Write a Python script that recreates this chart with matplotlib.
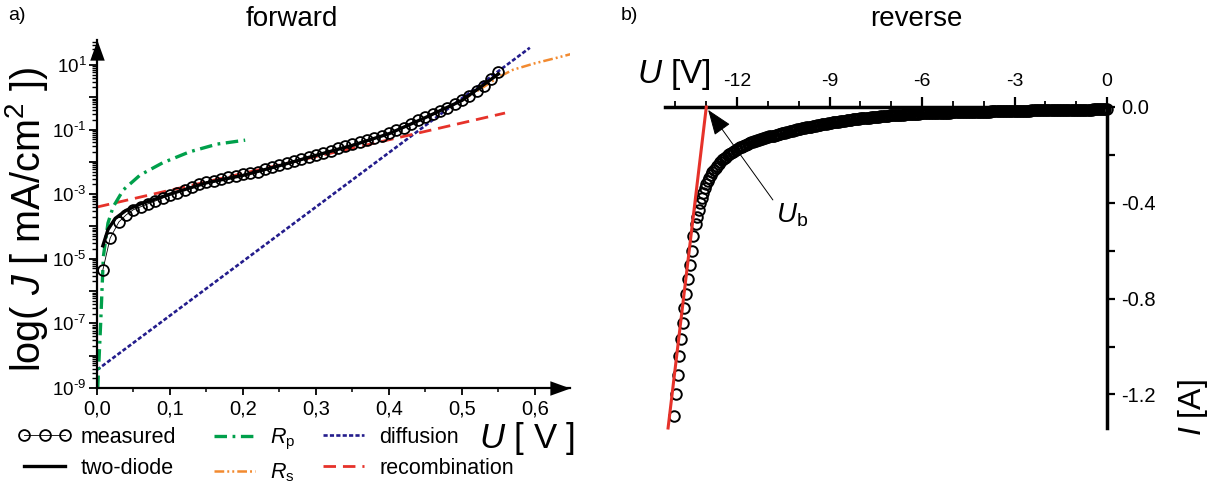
import matplotlib.pyplot as plt
import numpy as np
from matplotlib.ticker import LogLocator, MultipleLocator, FixedLocator, FuncFormatter, NullFormatter

plt.rcParams['font.family'] = ['Liberation Sans', 'DejaVu Sans']
plt.rcParams['mathtext.fontset'] = 'custom'
plt.rcParams['mathtext.rm'] = 'Liberation Sans'
plt.rcParams['mathtext.it'] = 'Liberation Sans:italic'
plt.rcParams['axes.unicode_minus'] = False
plt.rcParams['lines.scale_dashes'] = False

# ---- forward: log10 of J [mA/cm2] ----
meas_U = [0.008, 0.018, 0.03, 0.04, 0.05, 0.06, 0.07, 0.08, 0.09, 0.10,
          0.11, 0.12, 0.13, 0.14, 0.15, 0.16, 0.17, 0.18, 0.19, 0.20,
          0.21, 0.22, 0.23, 0.24, 0.25, 0.26, 0.27, 0.28, 0.29, 0.30,
          0.31, 0.32, 0.33, 0.34, 0.35, 0.36, 0.37, 0.38, 0.39, 0.40,
          0.41, 0.42, 0.43, 0.44, 0.45, 0.46, 0.47, 0.48, 0.49, 0.50,
          0.51, 0.52, 0.53, 0.54, 0.55]
meas_logJ = [-5.35, -4.36, -3.86, -3.64, -3.48, -3.39, -3.30, -3.21, -3.12, -3.03,
             -2.95, -2.86, -2.77, -2.69, -2.63, -2.58, -2.52, -2.47, -2.43, -2.39,
             -2.35, -2.30, -2.23, -2.17, -2.10, -2.03, -1.96, -1.90, -1.84, -1.78,
             -1.72, -1.65, -1.58, -1.52, -1.46, -1.40, -1.33, -1.26, -1.19, -1.11,
             -1.03, -0.95, -0.84, -0.72, -0.61, -0.51, -0.42, -0.32, -0.20, -0.08,
             0.05, 0.19, 0.36, 0.55, 0.77]

fit_U = [0.008, 0.015, 0.025, 0.04, 0.06, 0.10, 0.15, 0.20, 0.25, 0.30, 0.35, 0.40, 0.45, 0.50, 0.55]
fit_logJ = [-4.6, -4.1, -3.75, -3.5, -3.3, -3.0, -2.65, -2.42, -2.12, -1.80, -1.49, -1.13, -0.63, -0.10, 0.72]

rp_U = [0.001, 0.003, 0.005, 0.0087, 0.015, 0.022, 0.036, 0.059, 0.09, 0.127, 0.165, 0.203]
rp_logJ = [-9.0, -8.0, -7.0, -4.94, -3.9, -3.40, -2.87, -2.41, -2.03, -1.69, -1.45, -1.33]

rs_U = [0.50, 0.53, 0.55, 0.57, 0.60, 0.63, 0.652]
rs_logJ = [-0.10, 0.32, 0.62, 0.85, 1.05, 1.22, 1.35]

diff_U = [0.0, 0.593]
diff_logJ = [-8.44, 1.53]

rec_U = [0.0, 0.559]
rec_logJ = [-3.40, -0.49]

# ---- reverse: I [A] vs U [V] ----
rev_U = [
    0.0, -0.05, -0.1, -0.15, -0.2, -0.25, -0.3, -0.35, -0.4, -0.45,
    -0.5, -0.55, -0.6, -0.65, -0.7, -0.75, -0.8, -0.85, -0.9, -0.95,
    -1.0, -1.05, -1.1, -1.15, -1.2, -1.25, -1.3, -1.35, -1.4, -1.45,
    -1.5, -1.55, -1.6, -1.65, -1.7, -1.75, -1.8, -1.85, -1.9, -1.95,
    -2.0, -2.05, -2.1, -2.15, -2.2, -2.25, -2.3, -2.35, -2.4, -2.45,
    -2.5, -2.55, -2.6, -2.65, -2.7, -2.75, -2.8, -2.85, -2.9, -2.95,
    -3.0, -3.05, -3.1, -3.15, -3.2, -3.25, -3.3, -3.35, -3.4, -3.45,
    -3.5, -3.55, -3.6, -3.65, -3.7, -3.75, -3.8, -3.85, -3.9, -3.95,
    -4.0, -4.05, -4.1, -4.15, -4.2, -4.25, -4.3, -4.35, -4.4, -4.45,
    -4.5, -4.55, -4.6, -4.65, -4.7, -4.75, -4.8, -4.85, -4.9, -4.95,
    -5.0, -5.05, -5.1, -5.15, -5.2, -5.25, -5.3, -5.35, -5.4, -5.45,
    -5.5, -5.55, -5.6, -5.65, -5.7, -5.75, -5.8, -5.85, -5.9, -5.95,
    -6.0, -6.05, -6.1, -6.15, -6.2, -6.25, -6.3, -6.35, -6.4, -6.45,
    -6.5, -6.55, -6.6, -6.65, -6.7, -6.75, -6.8, -6.85, -6.9, -6.95,
    -7.0, -7.05, -7.1, -7.15, -7.2, -7.25, -7.3, -7.35, -7.4, -7.45,
    -7.5, -7.55, -7.6, -7.65, -7.7, -7.75, -7.8, -7.85, -7.9, -7.95,
    -8.0, -8.05, -8.1, -8.15, -8.2, -8.25, -8.3, -8.35, -8.4, -8.45,
    -8.5, -8.55, -8.6, -8.65, -8.7, -8.75, -8.8, -8.85, -8.9, -8.95,
    -9.0, -9.05, -9.1, -9.15, -9.2, -9.25, -9.3, -9.35, -9.4, -9.45,
    -9.5, -9.55, -9.6, -9.65, -9.7, -9.75, -9.8, -9.85, -9.9, -9.95,
    -10.0, -10.05, -10.1, -10.15, -10.2, -10.25, -10.3, -10.35, -10.4, -10.45,
    -10.5, -10.55, -10.6, -10.65, -10.7, -10.75, -10.8, -10.85, -10.9, -10.95,
    -11.0, -11.05, -11.1, -11.15, -11.2, -11.25, -11.3, -11.35, -11.4, -11.45,
    -11.5, -11.55, -11.6, -11.65, -11.7, -11.75, -11.8, -11.85, -11.9, -11.95,
    -12.0, -12.05, -12.1, -12.15, -12.2, -12.25, -12.3, -12.35, -12.4, -12.45,
    -12.5, -12.55, -12.6, -12.65, -12.7, -12.75, -12.8, -12.85, -12.9, -12.95,
    -13.0, -13.05, -13.1, -13.15, -13.2, -13.25, -13.3, -13.35,
    -13.42, -13.48, -13.54, -13.60, -13.66, -13.71, -13.76, -13.82, -13.88, -13.93,
    -13.99, -14.05]
rev_I = [
    -0.010, -0.010, -0.010, -0.010, -0.010, -0.010, -0.010, -0.010, -0.010, -0.010,
    -0.011, -0.011, -0.011, -0.011, -0.011, -0.011, -0.011, -0.011, -0.011, -0.011,
    -0.012, -0.012, -0.012, -0.012, -0.012, -0.012, -0.012, -0.012, -0.012, -0.012,
    -0.013, -0.013, -0.013, -0.013, -0.013, -0.013, -0.013, -0.013, -0.013, -0.013,
    -0.014, -0.014, -0.014, -0.014, -0.014, -0.014, -0.014, -0.014, -0.014, -0.014,
    -0.015, -0.015, -0.015, -0.015, -0.015, -0.015, -0.015, -0.015, -0.015, -0.015,
    -0.016, -0.016, -0.016, -0.016, -0.017, -0.017, -0.017, -0.017, -0.017, -0.017,
    -0.018, -0.018, -0.018, -0.018, -0.018, -0.018, -0.019, -0.019, -0.019, -0.019,
    -0.019, -0.019, -0.019, -0.019, -0.020, -0.020, -0.020, -0.020, -0.020, -0.020,
    -0.021, -0.021, -0.021, -0.021, -0.021, -0.021, -0.022, -0.022, -0.022, -0.022,
    -0.022, -0.022, -0.023, -0.023, -0.023, -0.023, -0.024, -0.024, -0.024, -0.024,
    -0.025, -0.025, -0.025, -0.025, -0.026, -0.026, -0.026, -0.026, -0.027, -0.027,
    -0.027, -0.027, -0.028, -0.028, -0.029, -0.029, -0.029, -0.029, -0.030, -0.030,
    -0.031, -0.031, -0.032, -0.032, -0.033, -0.033, -0.033, -0.033, -0.034, -0.034,
    -0.035, -0.035, -0.036, -0.036, -0.037, -0.038, -0.039, -0.039, -0.040, -0.040,
    -0.041, -0.042, -0.043, -0.043, -0.044, -0.044, -0.045, -0.046, -0.047, -0.047,
    -0.048, -0.049, -0.050, -0.051, -0.052, -0.052, -0.053, -0.054, -0.055, -0.056,
    -0.057, -0.058, -0.059, -0.060, -0.061, -0.061, -0.062, -0.063, -0.064, -0.065,
    -0.066, -0.067, -0.069, -0.070, -0.071, -0.072, -0.074, -0.075, -0.077, -0.078,
    -0.079, -0.080, -0.082, -0.083, -0.084, -0.085, -0.087, -0.088, -0.089, -0.090,
    -0.092, -0.093, -0.095, -0.097, -0.099, -0.100, -0.102, -0.103, -0.105, -0.107,
    -0.109, -0.110, -0.112, -0.113, -0.115, -0.117, -0.119, -0.120, -0.122, -0.123,
    -0.125, -0.127, -0.129, -0.131, -0.133, -0.135, -0.137, -0.139, -0.141, -0.143,
    -0.145, -0.148, -0.151, -0.154, -0.157, -0.160, -0.163, -0.166, -0.169, -0.172,
    -0.175, -0.180, -0.184, -0.189, -0.193, -0.198, -0.202, -0.207, -0.211, -0.216,
    -0.220, -0.228, -0.237, -0.245, -0.253, -0.262, -0.270, -0.283, -0.295, -0.308,
    -0.320, -0.340, -0.360, -0.380, -0.400, -0.430, -0.460, -0.490,
    -0.54, -0.60, -0.66, -0.72, -0.78, -0.84, -0.90, -0.97, -1.04, -1.12,
    -1.20, -1.29]

ub_U = [-13.0, -14.24]
ub_I = [0.0, -1.34]
ub_point = (-12.94, -0.012)

green = '#00a04b'
orange = '#f28a30'
navy = '#231c8c'
red = '#e6322a'

fig = plt.figure(figsize=(12.1, 4.86), dpi=100)
W, H = 1210, 486
ax1 = fig.add_axes([97 / W, 1 - 388 / H, (570 - 97) / W, (388 - 40) / H])
ax2 = fig.add_axes([665 / W, 1 - 428 / H, (1107 - 665) / W, (428 - 107) / H])

# ---------------- forward ----------------
p = lambda v: 10 ** np.array(v)
h_diff, = ax1.plot(diff_U, p(diff_logJ), color=navy, lw=1.9, dashes=(3, 1.6), label='diffusion')
h_rec, = ax1.plot(rec_U, p(rec_logJ), color=red, lw=2.0, dashes=(9, 5), label='recombination')
h_rp, = ax1.plot(rp_U, p(rp_logJ), color=green, lw=2.4, dashes=(9, 4, 2, 4), label=r'$R_\mathrm{p}$')
h_rs, = ax1.plot(rs_U, p(rs_logJ), color=orange, lw=1.8, dashes=(7, 2.2, 1.4, 2.2, 1.4, 2.2), label=r'$R_\mathrm{s}$')
h_fit, = ax1.plot(fit_U, p(fit_logJ), color='k', lw=2.4, label='two-diode')
h_meas, = ax1.plot(meas_U, p(meas_logJ), color='k', lw=0.6, marker='o', ms=7.8, mfc='none',
                   mec='k', mew=1.3, label='measured')

ax1.set_yscale('log')
ax1.set_xlim(0, 0.648)
ax1.set_ylim(1e-9, 10 ** 1.77)
for s in ['top', 'right']:
    ax1.spines[s].set_visible(False)
for s in ['left', 'bottom']:
    ax1.spines[s].set_linewidth(1.6)

ax1.xaxis.set_major_locator(MultipleLocator(0.1))
ax1.xaxis.set_minor_locator(MultipleLocator(0.05))
ax1.xaxis.set_major_formatter(FuncFormatter(lambda v, pos: f'{v:.1f}'.replace('.', ',')))
ax1.yaxis.set_major_locator(LogLocator(base=10, numticks=30))
ax1.yaxis.set_minor_locator(LogLocator(base=10, subs=np.arange(2, 10), numticks=30))
ax1.yaxis.set_minor_formatter(NullFormatter())


def exp_label(v, pos):
    e = int(round(np.log10(v)))
    return r'$10^{\text{%d}}$' % e if e % 2 else ''


ax1.yaxis.set_major_formatter(FuncFormatter(exp_label))
ax1.tick_params(axis='x', which='major', direction='out', length=5, width=1.3, labelsize=14.5, pad=3)
ax1.tick_params(axis='x', which='minor', direction='out', length=3, width=1.1)
ax1.tick_params(axis='y', which='major', direction='out', length=6, width=1.3, labelsize=13.5, pad=1.5)
ax1.tick_params(axis='y', which='minor', direction='out', length=3.5, width=1.0)

# arrow heads at the axis ends
arr_x = [(0, 0), (-1, -0.36), (-1, 0.36), (0, 0)]
arr_y = [(0, 0), (-0.36, -1), (0.36, -1), (0, 0)]
ax1.plot([1], [0], marker=arr_x, ms=29, color='k', mew=0, transform=ax1.transAxes, clip_on=False)
ax1.plot([0], [1], marker=arr_y, ms=29, color='k', mew=0, transform=ax1.transAxes, clip_on=False)

leg_kw = dict(loc='upper left', frameon=False, fontsize=15.5, borderpad=0, borderaxespad=0,
              handlelength=2.5, handletextpad=0.4, labelspacing=0.45, numpoints=3)
fig.legend(handles=[h_meas, h_fit], bbox_to_anchor=(18 / W, 1 - 427 / H), **leg_kw)
fig.legend(handles=[h_rp, h_rs], bbox_to_anchor=(208 / W, 1 - 427 / H), **leg_kw)
fig.legend(handles=[h_diff, h_rec], bbox_to_anchor=(317 / W, 1 - 427 / H), **leg_kw)

fig.text(575 / W, 1 - 438 / H, r'$U$ [ V ]', ha='right', va='center', fontsize=25)
fig.text(27 / W, 1 - 220 / H, r'log( $J$ [ mA/cm$^2$ ])', rotation=90, ha='center', va='center', fontsize=28.5)
fig.text(292 / W, 1 - 19 / H, 'forward', ha='center', va='center', fontsize=20)
fig.text(8 / W, 1 - 15 / H, 'a)', ha='left', va='center', fontsize=14)

# ---------------- reverse ----------------
ax2.plot(rev_U, rev_I, 'o', ms=7.6, mfc='none', mec='k', mew=1.4, clip_on=False)
ax2.plot(ub_U, ub_I, color=red, lw=2.2, clip_on=False, zorder=4)
ax2.annotate(r'$U_\mathrm{b}$', xy=ub_point, xytext=(-10.75, -0.45), fontsize=20,
             ha='left', va='center',
             arrowprops=dict(arrowstyle='-|>,head_length=0.8,head_width=0.3', lw=0.7, color='k',
                             shrinkA=0, shrinkB=0, relpos=(0, 0.9), mutation_scale=20))

ax2.set_xlim(-14.34, 0)
ax2.set_ylim(-1.34, 0)
for s in ['left', 'bottom']:
    ax2.spines[s].set_visible(False)
for s in ['top', 'right']:
    ax2.spines[s].set_linewidth(2.5)
ax2.xaxis.tick_top()
ax2.yaxis.tick_right()
ax2.xaxis.set_major_locator(FixedLocator([-12, -9, -6, -3, 0]))
ax2.xaxis.set_minor_locator(MultipleLocator(1))
ax2.xaxis.set_major_formatter(FuncFormatter(lambda v, pos: f'{v:.0f}'))
ax2.yaxis.set_major_locator(FixedLocator([0.0, -0.4, -0.8, -1.2]))
ax2.yaxis.set_minor_locator(FixedLocator([-0.2, -0.6, -1.0]))
ax2.yaxis.set_major_formatter(FuncFormatter(lambda v, pos: f'{v:.1f}'))
ax2.tick_params(axis='x', which='major', direction='out', length=7, width=1.6, labelsize=14, pad=5)
ax2.tick_params(axis='x', which='minor', direction='out', length=4, width=1.3)
ax2.tick_params(axis='y', which='major', direction='out', length=6, width=1.6, labelsize=14.5, pad=4)
ax2.tick_params(axis='y', which='minor', direction='out', length=6, width=1.6)

fig.text(674 / W, 1 - 74 / H, r'$U$ [V]', ha='center', va='center', fontsize=24)
fig.text(1193 / W, 1 - 408 / H, r'$I$ [A]', rotation=90, ha='center', va='center', fontsize=23)
fig.text(916 / W, 1 - 19 / H, 'reverse', ha='center', va='center', fontsize=20)
fig.text(621 / W, 1 - 15 / H, 'b)', ha='left', va='center', fontsize=14)

fig.savefig('out.png', dpi=100)
